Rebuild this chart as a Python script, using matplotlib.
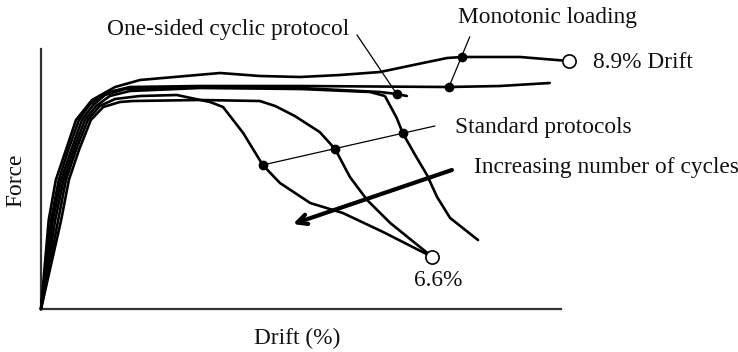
import numpy as np
import matplotlib
matplotlib.use("Agg")
import matplotlib.pyplot as plt

plt.rcParams['font.family'] = ['Liberation Serif', 'DejaVu Serif']

# Schematic force-drift backbone curves (drift in %, force in arbitrary units)
mono_a_drift = [0, 0.13, 0.25, 0.42, 0.59, 0.86, 1.25, 1.67, 3.02, 3.69, 4.37, 5.04, 5.72, 6.44, 6.85, 7.10, 8.08, 8.90]
mono_a_force = [0, 89, 129, 159, 189, 209, 222, 229, 236, 233, 232, 234, 237, 246, 251, 252, 252, 248]

mono_b_drift = [0, 0.17, 0.30, 0.46, 0.64, 0.83, 1.08, 1.50, 2.68, 4.37, 6.88, 7.74, 8.58]
mono_b_force = [0, 89, 129, 159, 189, 205, 216, 222, 223, 223, 222, 223, 226]

onesided_drift = [0, 0.20, 0.34, 0.51, 0.69, 0.88, 1.08, 1.42, 2.68, 4.37, 5.72, 6.00, 6.17]
onesided_force = [0, 89, 129, 159, 189, 204, 214, 220, 222, 221, 217, 215, 213]

std1_drift = [0, 0.24, 0.38, 0.55, 0.74, 0.93, 1.16, 1.50, 2.68, 4.37, 5.55, 5.80, 6.00, 6.10, 6.31, 6.51, 6.68, 6.90, 7.37]
std1_force = [0, 89, 129, 159, 189, 203, 213, 218, 221, 220, 217, 213, 191, 176, 154, 134, 112, 91, 69]

std2_drift = [0, 0.34, 0.47, 0.64, 0.84, 1.05, 1.33, 1.55, 2.68, 3.69, 3.95, 4.28, 4.70, 4.96, 5.21, 5.50, 5.89, 6.60]
std2_force = [0, 89, 129, 159, 189, 202, 207, 208, 209, 208, 203, 193, 177, 160, 132, 109, 86, 52]

std3_drift = [0, 0.29, 0.42, 0.59, 0.79, 0.99, 1.25, 1.67, 2.29, 2.85, 3.07, 3.41, 3.74, 4.03, 4.54, 5.09, 5.77, 6.60]
std3_force = [0, 89, 129, 159, 189, 203, 210, 213, 214, 207, 202, 176, 144, 126, 106, 96, 77, 52]

# Marked points
mono_dot_drift = [7.10, 6.88]
mono_dot_force = [252, 222]
onesided_dot = (6.00, 215)
std_dot_drift = [3.74, 4.96, 6.10]
std_dot_force = [144, 160, 176]
end_circles_drift = [8.90, 6.60]
end_circles_force = [248, 52]

W, H = 738, 352
fig = plt.figure(figsize=(W / 100, H / 100), dpi=100)
ax = fig.add_axes([41 / W, (H - 309) / H, 520 / W, 260 / H])
ax.set_xlim(0, 8.77)
ax.set_ylim(0, 260)
for s in ['top', 'right']:
    ax.spines[s].set_visible(False)
for s in ['left', 'bottom']:
    ax.spines[s].set_linewidth(1.6)
    ax.spines[s].set_color('#333333')
ax.set_xticks([])
ax.set_yticks([])

lw = 1.9
for d, f in [(mono_a_drift, mono_a_force), (mono_b_drift, mono_b_force),
             (onesided_drift, onesided_force), (std1_drift, std1_force),
             (std2_drift, std2_force), (std3_drift, std3_force)]:
    ax.plot(d, f, color='black', lw=lw, solid_capstyle='round', solid_joinstyle='round',
            clip_on=False, zorder=3)

# leader lines
thin = 0.9
ax.plot([mono_dot_drift[1], 7.23], [mono_dot_force[1], 272], color='black', lw=thin, clip_on=False, zorder=4)
ax.plot([onesided_dot[0], 5.33], [onesided_dot[1], 274], color='black', lw=thin, clip_on=False, zorder=4)
ax.plot([std_dot_drift[0], 6.64], [std_dot_force[0], 183], color='black', lw=thin, clip_on=False, zorder=4)

# dots
ax.plot(mono_dot_drift, mono_dot_force, 'o', color='black', ms=6, zorder=5, clip_on=False)
ax.plot([onesided_dot[0]], [onesided_dot[1]], 'o', color='black', ms=6, zorder=5, clip_on=False)
ax.plot(std_dot_drift, std_dot_force, 'o', color='black', ms=6, zorder=5, clip_on=False)
ax.plot(end_circles_drift, end_circles_force, 'o', mfc='white', mec='black', mew=1.2, ms=9.5,
        zorder=5, clip_on=False)

# arrow
ax.annotate('', xy=(4.25, 85), xytext=(6.93, 139),
            arrowprops=dict(arrowstyle='->,head_length=0.7,head_width=0.35', lw=3, color='black',
                            shrinkA=0, shrinkB=0), zorder=6, annotation_clip=False)

fs = 16.8
def ft(x, y, s, **kw):
    fig.text(x / W, 1 - y / H, s, fontsize=fs, color='#111111', **kw)

ft(107, 29, 'One-sided cyclic protocol', ha='left', va='center')
ft(458, 18, 'Monotonic loading', ha='left', va='center')
ft(593, 62, '8.9% Drift', ha='left', va='center')
ft(455, 127, 'Standard protocols', ha='left', va='center')
ft(474, 168, 'Increasing number of cycles', ha='left', va='center')
ft(438, 281, '6.6%', ha='center', va='center')
ft(297, 338, 'Drift (%)', ha='center', va='center')
ft(16, 180, 'Force', ha='center', va='center', rotation=90)

fig.savefig('out.png', dpi=100)
